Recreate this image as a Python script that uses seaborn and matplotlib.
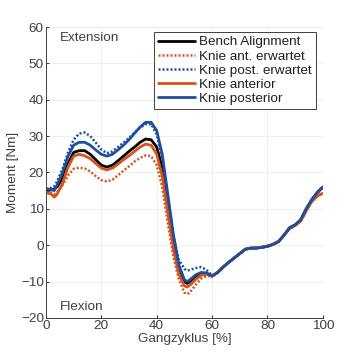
import numpy as np
import pandas as pd
import matplotlib
matplotlib.use("Agg")
import matplotlib.pyplot as plt
import seaborn as sns

gait = [0, 2, 3, 4, 6, 8, 10, 12, 14, 16, 18, 20, 22, 24, 26, 28, 30, 32, 34, 36, 38, 40,
        42, 44, 46, 48, 50, 51, 52, 54, 56, 58, 60, 62, 64, 66, 68, 70, 72, 74, 76, 78, 80,
        82, 84, 86, 88, 90, 92, 94, 96, 98, 100]

# shared swing phase (62..100)
tail_blue = [-7.5, -6, -4.7, -3.5, -2.3, -1.1, -0.8, -0.8, -0.6, -0.3, 0.2, 1, 2.8, 4.8,
             5.6, 7, 10, 12.5, 14.5, 16]
tail_orange = [-7.5, -6, -4.7, -3.5, -2.3, -1.1, -0.8, -0.7, -0.5, -0.2, 0.3, 1.1, 2.8, 4.6,
               5.4, 6.6, 9.5, 12, 13.5, 14.3]

bench = [15, 15.2, 15.5, 16, 18.5, 22.5, 25.5, 26, 26, 25, 23.5, 22, 21.5, 22, 23.2, 24.5,
         25.8, 27, 28.3, 29.2, 29, 27, 21.5, 12, 2, -6, -10, -10.5, -10, -8.5, -7.8, -7.8,
         -8.5] + tail_blue
ant_exp = [14.5, 14.3, 14, 14.5, 16.5, 19.2, 21, 21.3, 21.1, 20.3, 19, 17.9, 17.5, 18, 19.2,
           20.5, 21.7, 23, 24, 24.7, 24.5, 22, 16, 6, -3, -9.5, -13, -13.5, -13, -11, -9.2,
           -8.5, -8.5] + tail_orange
post_exp = [15.5, 15.8, 16.2, 17.5, 21, 25.5, 29, 30.7, 31, 30, 28.2, 26.3, 25.3, 25.8, 27,
            28.2, 29.5, 31, 32.3, 33.3, 33.3, 30.5, 24, 13, 2.5, -4, -6.5, -7, -6.8, -6.3,
            -6, -6.8, -8.3] + tail_blue
anterior = [14.5, 14, 13.2, 14, 17, 21.5, 24.5, 25, 24.6, 23.8, 22.5, 21.2, 20.7, 21.2, 22.3,
            23.5, 24.6, 25.8, 27, 27.8, 27.5, 25, 19, 9, -1, -8, -11.2, -11.5, -11, -9.5,
            -8.3, -8, -8.5] + tail_orange
posterior = [15.5, 15.3, 15, 16.5, 20, 24.5, 27.5, 28.3, 28.3, 27.5, 26.2, 25, 24.5, 25,
             26.2, 27.5, 29, 30.8, 32.5, 33.8, 33.8, 31.5, 25, 14, 3, -5.5, -9.5, -10, -9.5,
             -8.2, -7.5, -7.6, -8.5] + tail_blue

series = ["Bench Alignment", "Knie ant. erwartet", "Knie post. erwartet",
          "Knie anterior", "Knie posterior"]
values = [bench, ant_exp, post_exp, anterior, posterior]

orange = "#D95319"
blue = "#1F4E9E"
colors = ["black", orange, blue, orange, blue]
styles = ["-", (0, (0.8, 0.8)), (0, (0.8, 0.8)), "-", "-"]
widths = [2, 1.8, 1.8, 2, 2]

fs = 9.7
txt = "#404040"

sns.set_style("whitegrid")
plt.rcParams["font.family"] = ["Liberation Sans", "DejaVu Sans"]
plt.rcParams["font.size"] = fs

fig = plt.figure(figsize=(3.56, 3.56), dpi=100)
ax = fig.add_axes([0.129, 0.107, 0.778, 0.817])

for name, vals, c, ls, lw in zip(series, values, colors, styles, widths):
    df = pd.DataFrame({"x": gait, "y": vals})
    sns.lineplot(data=df, x="x", y="y", ax=ax, color=c, lw=lw, label=name)
    ax.lines[-1].set_linestyle(ls)

ax.set_xlim(0, 100)
ax.set_ylim(-20, 60)
ax.set_xticks(np.arange(0, 101, 20))
ax.set_yticks(np.arange(-20, 61, 10))
ax.set_xlabel("Gangzyklus [%]", fontsize=fs, labelpad=1, color=txt)
ax.set_ylabel("Moment [Nm]", fontsize=fs, labelpad=1, color=txt)
ax.tick_params(axis="both", labelsize=fs, colors=txt, length=2.5, pad=1.5,
               direction="in", left=True, bottom=True)
ax.grid(True, color="#ececec", lw=0.6)
for s in ["top", "right"]:
    ax.spines[s].set_visible(False)
for s in ["left", "bottom"]:
    ax.spines[s].set_color(txt)
    ax.spines[s].set_linewidth(0.7)

ax.text(5, 57, "Extension", fontsize=fs, va="center", color=txt)
ax.text(5, -17, "Flexion", fontsize=fs, va="center", color=txt)

leg = ax.legend(loc="upper right", bbox_to_anchor=(0.975, 0.983), fontsize=fs,
                frameon=True, fancybox=False, handlelength=2.7, handletextpad=0.35,
                labelspacing=0.12, borderpad=0.3, borderaxespad=0)
leg.get_frame().set_edgecolor(txt)
leg.get_frame().set_linewidth(0.7)
leg.get_frame().set_alpha(1)
for t in leg.get_texts():
    t.set_color("#202020")

fig.savefig("out.png", dpi=100)
